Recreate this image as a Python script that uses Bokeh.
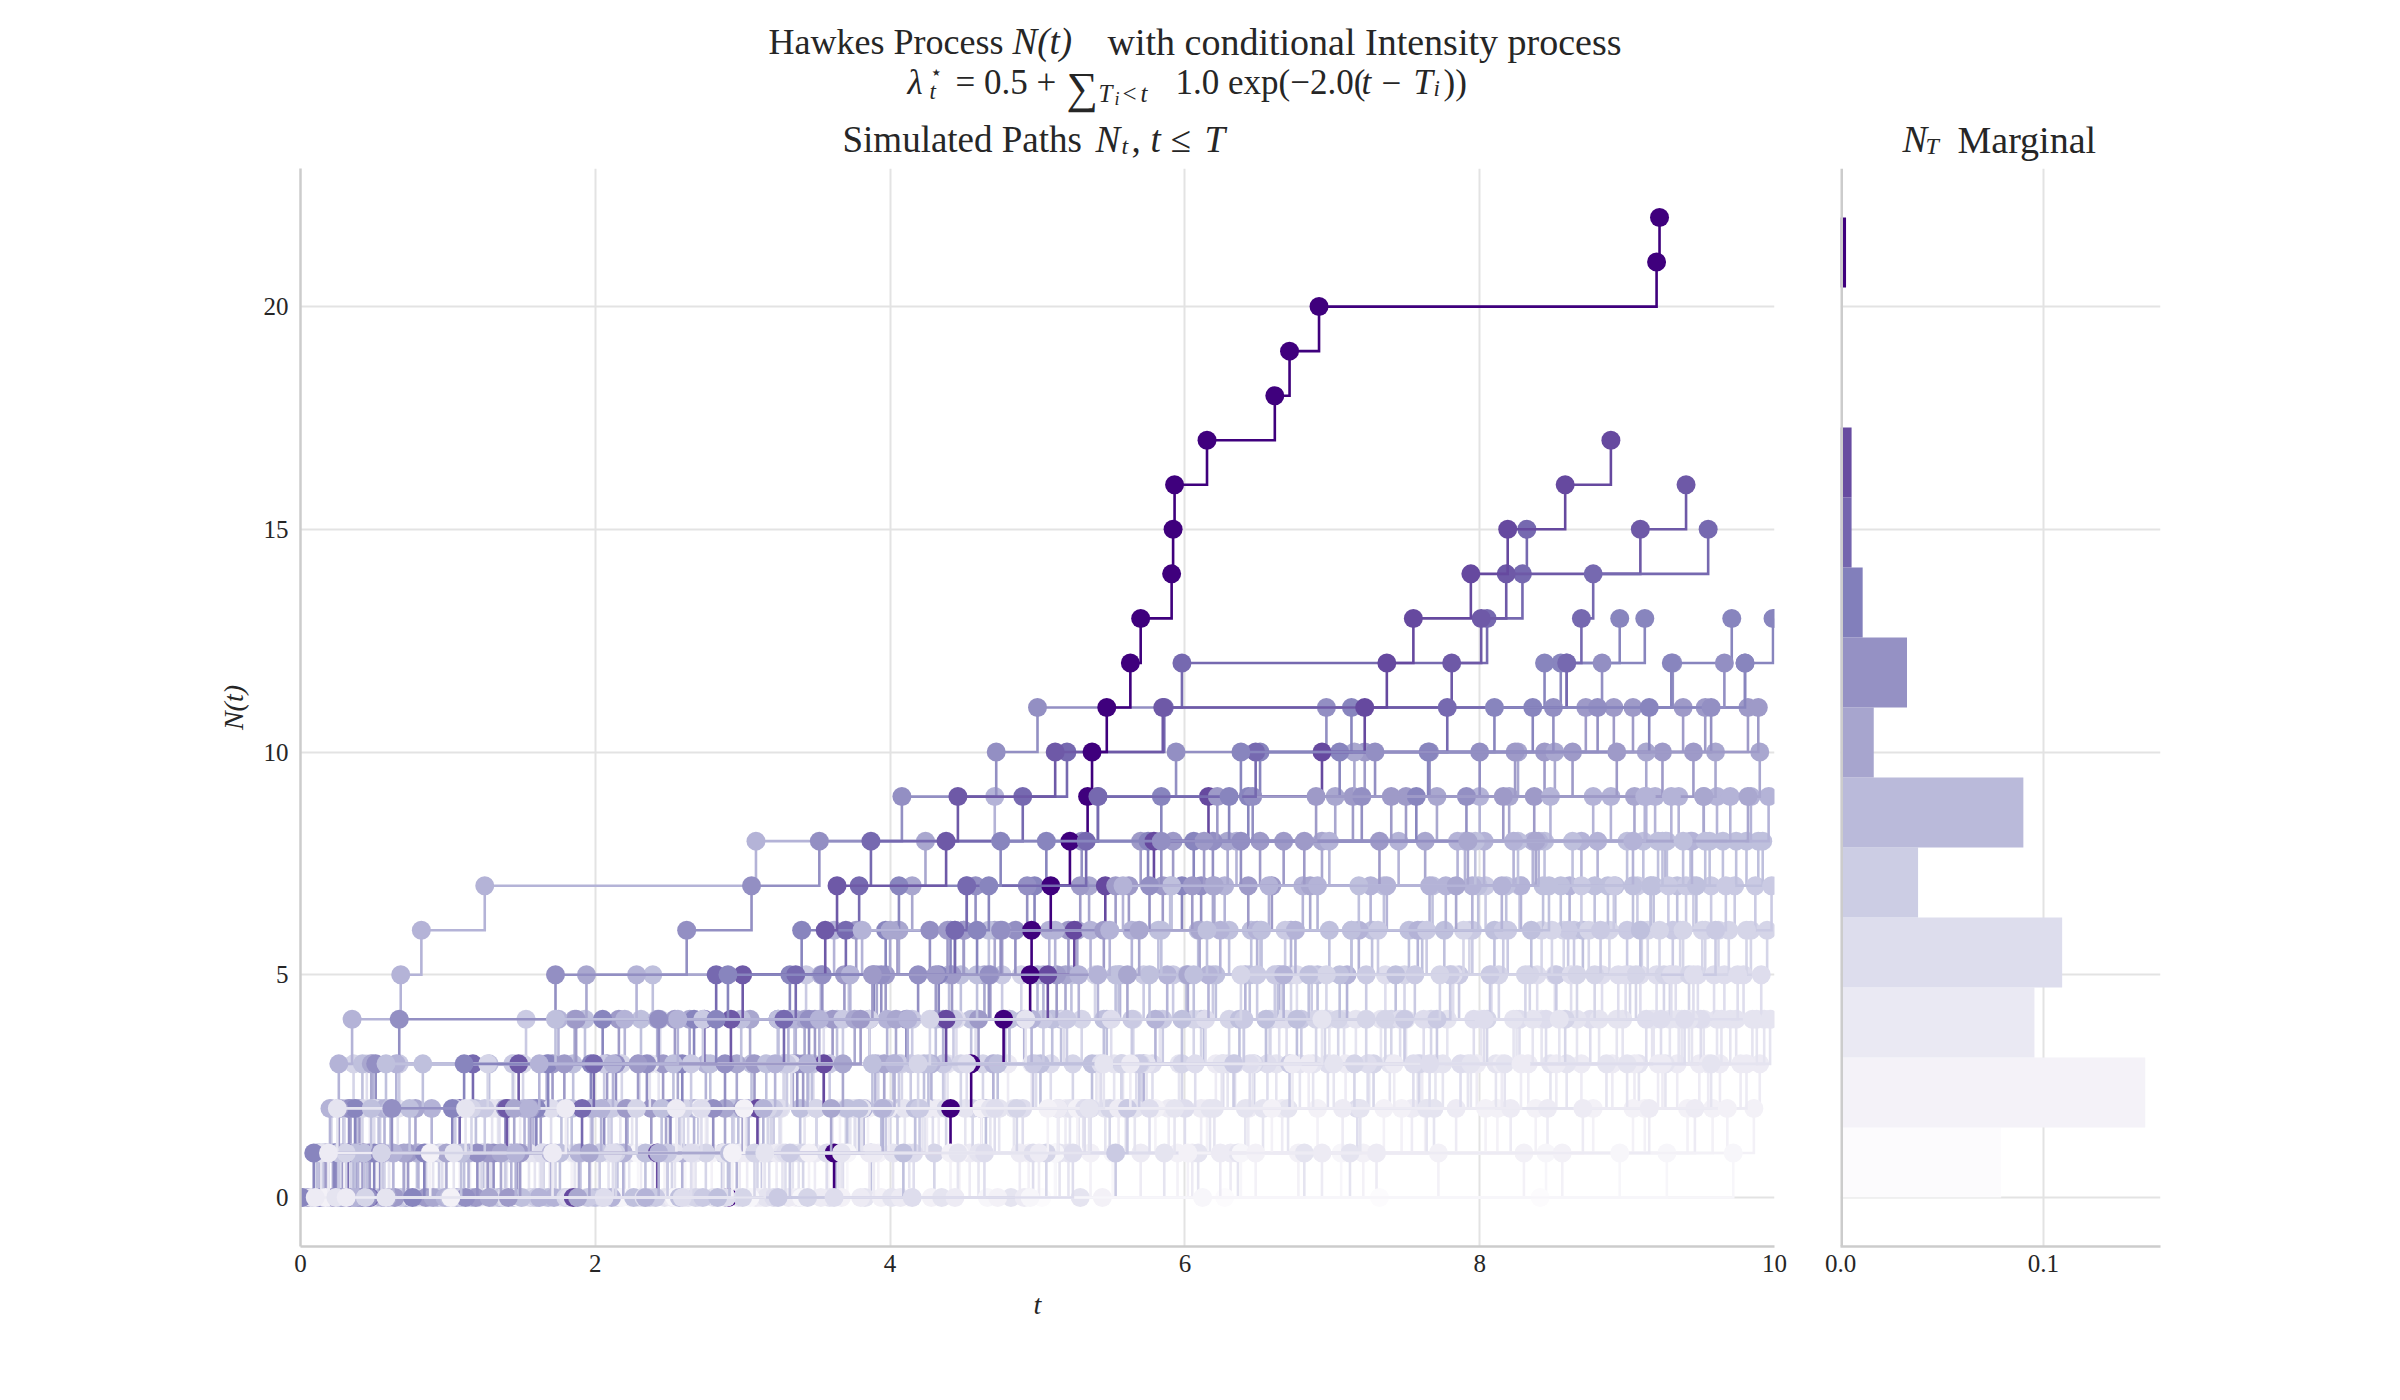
import numpy as np
from bokeh.plotting import figure
from bokeh.models import Range1d, FixedTicker, NumeralTickFormatter, Span
from bokeh.core.properties import value
from bokeh.layouts import row, column
from bokeh.embed import file_html
from bokeh.resources import INLINE

# Event times of every simulated path on [0, T], grouped by the final count N_T.
# A path with final count k has k + 1 marked events (counts 0 .. k).
T_END = 10.0

paths_n0 = [[0.02], [0.44], [1.13], [1.71], [2.35], [2.96], [3.58], [4.12], [5.03], [6.27], [7.32], [8.41]]

paths_n1 = [
    [0.08, 1.62], [0.21, 2.61], [0.37, 0.61], [0.55, 4.30], [0.79, 2.02], [1.02, 5.51],
    [1.24, 1.38], [1.47, 7.06], [1.93, 3.27], [2.18, 2.29], [2.54, 8.45], [2.83, 6.38],
    [3.05, 3.71], [3.40, 9.27], [4.66, 5.12], [4.95, 9.72], [6.12, 8.95],
]

paths_n2 = [
    [0.03, 0.29, 3.85], [0.12, 1.08, 1.19], [0.26, 2.47, 6.90], [0.41, 0.52, 7.63],
    [0.48, 3.92, 4.05], [0.63, 1.84, 9.41], [0.74, 5.36, 5.60], [0.92, 0.97, 2.71],
    [1.10, 6.77, 8.12], [1.31, 3.58, 3.66], [1.52, 1.88, 9.04], [1.66, 4.94, 7.47],
    [1.85, 2.12, 5.80], [2.02, 8.30, 8.38], [2.24, 2.79, 6.15], [2.40, 4.47, 9.86],
    [2.61, 7.21, 7.35], [2.88, 3.14, 4.62], [3.12, 5.95, 9.58], [3.36, 3.45, 8.77],
    [3.67, 6.48, 6.59], [3.94, 7.72, 9.12], [4.28, 4.41, 5.27], [4.73, 8.56, 9.68],
    [5.44, 6.02, 8.04], [0.17, 0.88, 5.07], [1.02, 2.93, 3.01],
]

paths_n3 = [
    [0.05, 0.33, 0.47, 6.21], [0.14, 2.66, 2.75, 3.30], [0.22, 1.15, 5.89, 9.34],
    [0.34, 0.40, 4.17, 7.98], [0.46, 3.03, 3.20, 8.69], [0.58, 1.97, 7.54, 7.61],
    [0.69, 0.86, 1.49, 4.80], [0.83, 5.12, 5.19, 9.90], [0.99, 2.31, 6.66, 9.05],
    [1.18, 1.26, 3.77, 5.42], [1.36, 4.54, 8.21, 8.33], [1.57, 1.69, 2.04, 7.09],
    [1.76, 6.31, 6.43, 9.49], [1.94, 3.49, 3.61, 4.96], [2.13, 2.20, 7.84, 9.63],
    [2.31, 5.70, 8.46, 8.52], [2.52, 2.98, 4.33, 6.84], [2.70, 3.86, 3.99, 9.21],
    [2.91, 6.05, 6.11, 7.42], [3.09, 3.23, 5.55, 8.90], [3.31, 4.88, 9.46, 9.55],
    [3.53, 6.93, 7.07, 8.15], [3.80, 3.89, 4.25, 9.77], [4.07, 7.30, 8.70, 9.81],
    [4.44, 5.01, 5.14, 6.73], [4.91, 6.24, 9.15, 9.24], [0.10, 0.19, 2.55, 5.63],
    [0.31, 1.71, 1.80, 8.28],
]

paths_n4 = [
    [0.04, 0.18, 1.34, 1.45, 6.57], [0.11, 0.47, 3.26, 7.92, 8.01], [0.20, 2.09, 2.17, 2.43, 9.18],
    [0.28, 0.35, 0.66, 4.70, 5.83], [0.36, 1.59, 5.31, 5.40, 9.70], [0.43, 2.86, 6.20, 6.29, 7.78],
    [0.52, 0.60, 3.73, 8.48, 9.37], [0.61, 1.22, 1.30, 5.96, 8.81], [0.70, 4.13, 4.22, 4.39, 7.16],
    [0.81, 0.90, 2.58, 6.62, 9.52], [0.95, 3.34, 3.42, 9.08, 9.17], [1.07, 1.55, 4.84, 7.39, 7.50],
    [1.20, 5.21, 5.28, 8.11, 9.93], [1.33, 1.40, 2.25, 3.96, 6.98], [1.49, 3.65, 6.70, 6.78, 8.42],
    [1.61, 2.68, 2.76, 5.58, 9.29], [1.79, 1.86, 4.51, 7.25, 7.33], [1.98, 6.36, 6.41, 8.59, 9.61],
    [2.15, 2.23, 3.11, 5.74, 8.97], [2.29, 4.02, 4.10, 6.87, 9.44], [2.47, 2.54, 7.69, 7.75, 9.88],
    [2.63, 3.38, 5.46, 5.52, 8.25], [2.80, 2.87, 4.74, 9.26, 9.35], [2.97, 6.09, 6.17, 6.25, 8.66],
    [3.16, 3.27, 3.81, 7.58, 9.74], [3.39, 5.15, 5.22, 8.86, 8.93], [3.59, 3.67, 6.53, 9.00, 9.85],
    [3.83, 4.60, 4.68, 7.94, 8.36], [4.01, 7.12, 7.19, 9.57, 9.64], [4.35, 4.46, 5.66, 6.46, 9.97],
    [4.82, 5.86, 5.93, 8.17, 8.23], [5.29, 6.81, 7.64, 7.70, 9.42], [0.07, 0.14, 0.25, 2.37, 4.92],
    [0.24, 1.04, 1.12, 7.01, 8.54], [0.58, 3.15, 5.35, 5.45, 6.93],
]

paths_n5 = [
    [0.06, 0.16, 0.30, 0.45, 4.58, 8.08], [0.13, 1.28, 1.35, 3.48, 3.55, 9.48],
    [0.19, 0.27, 2.63, 6.34, 6.40, 7.36], [0.32, 0.38, 0.50, 5.78, 8.75, 8.83],
    [0.40, 2.14, 2.21, 2.30, 7.08, 9.66], [0.50, 1.63, 4.29, 4.37, 4.45, 8.39],
    [0.62, 0.71, 3.02, 6.97, 9.13, 9.20], [0.75, 3.68, 3.76, 5.09, 5.18, 7.82],
    [0.88, 0.96, 1.70, 6.56, 6.64, 9.79], [1.03, 2.39, 4.90, 4.99, 8.45, 8.51],
    [1.21, 1.29, 5.60, 5.67, 7.46, 9.33], [1.39, 3.18, 3.25, 3.33, 6.14, 8.99],
    [1.58, 1.64, 2.50, 7.87, 7.96, 9.09], [1.82, 4.16, 4.24, 6.26, 9.50, 9.59],
    [2.06, 2.12, 5.36, 5.43, 5.50, 8.62], [2.33, 3.57, 7.17, 7.24, 8.27, 9.91],
    [2.59, 2.65, 2.72, 4.52, 6.69, 6.76], [2.89, 4.97, 6.00, 6.07, 9.23, 9.30],
    [3.21, 3.29, 5.76, 7.55, 7.62, 8.94], [3.62, 4.64, 4.71, 6.44, 8.03, 9.75],
    [4.15, 5.24, 5.32, 7.66, 9.39, 9.45],
]

paths_n6 = [
    [0.05, 0.12, 0.21, 0.36, 2.44, 6.72, 9.36], [0.15, 0.24, 1.41, 1.51, 4.81, 4.89, 8.57],
    [0.27, 0.34, 0.42, 3.45, 6.58, 6.66, 7.93], [0.38, 2.02, 2.09, 2.18, 5.65, 9.02, 9.10],
    [0.49, 0.57, 4.00, 4.08, 7.40, 7.49, 9.84], [0.64, 1.73, 1.81, 3.92, 6.11, 8.34, 8.42],
    [0.78, 0.85, 2.94, 5.24, 5.30, 5.39, 9.62], [0.96, 3.10, 3.19, 3.28, 7.04, 8.78, 8.88],
    [1.14, 1.23, 4.56, 4.63, 6.30, 9.25, 9.53], [1.37, 2.52, 2.60, 5.98, 6.06, 7.80, 7.89],
    [1.56, 1.65, 3.70, 7.28, 7.36, 9.42, 9.51], [1.80, 4.30, 4.38, 4.48, 8.05, 8.13, 9.95],
    [2.05, 2.14, 5.49, 5.57, 6.89, 6.96, 9.14], [2.37, 3.41, 3.50, 6.47, 8.58, 8.66, 8.74],
    [2.68, 2.75, 4.86, 7.59, 7.67, 9.29, 9.38], [3.00, 3.08, 3.17, 5.70, 6.95, 8.31, 9.69],
    [3.44, 5.06, 5.14, 7.15, 7.23, 9.06, 9.81], [0.09, 0.31, 1.16, 1.27, 3.86, 7.73, 8.49],
    [0.44, 0.55, 2.28, 4.19, 4.27, 6.38, 9.22],
]

paths_n7 = [
    [0.10, 0.23, 0.29, 1.44, 1.53, 4.76, 8.19, 8.27], [0.20, 0.46, 0.54, 0.67, 3.35, 3.43, 6.51, 9.45],
    [0.30, 1.90, 1.97, 2.06, 5.85, 5.92, 7.13, 9.73], [0.47, 0.56, 3.50, 3.59, 3.68, 6.19, 9.00, 9.07],
    [0.68, 2.49, 2.57, 4.36, 4.43, 7.86, 7.95, 8.04], [0.87, 0.94, 1.05, 5.57, 5.64, 5.72, 8.64, 9.57],
    [1.09, 2.86, 2.93, 6.71, 6.79, 6.86, 9.31, 9.40], [1.30, 1.39, 4.05, 4.14, 7.49, 7.56, 7.64, 9.87],
    [1.60, 3.13, 3.21, 3.30, 5.20, 8.52, 8.60, 8.69], [1.95, 2.03, 2.11, 4.97, 5.04, 6.61, 6.68, 9.16],
    [0.16, 0.26, 1.25, 2.65, 2.73, 7.23, 7.31, 9.98], [2.41, 2.49, 3.97, 4.06, 4.15, 8.07, 8.16, 9.28],
    [2.73, 5.53, 5.61, 5.69, 7.71, 7.80, 9.60, 9.67], [3.24, 3.32, 4.20, 6.33, 6.40, 6.49, 8.82, 8.91],
]

paths_n8 = [
    [0.06, 0.15, 0.33, 0.42, 2.31, 2.39, 5.82, 5.90, 9.11], [0.17, 0.25, 1.77, 1.85, 1.93, 4.48, 7.27, 7.35, 9.89],
    [0.32, 0.45, 0.53, 3.55, 3.64, 3.72, 6.45, 8.92, 9.00], [0.51, 1.11, 1.19, 1.28, 5.16, 5.23, 7.61, 7.68, 8.44],
    [0.71, 0.79, 2.70, 2.78, 4.55, 6.90, 6.98, 9.34, 9.43], [0.93, 2.15, 2.22, 4.23, 4.31, 4.40, 8.35, 8.43, 9.65],
    [1.16, 1.24, 3.39, 3.47, 6.13, 6.21, 6.30, 7.99, 9.81], [1.45, 3.87, 3.94, 4.02, 5.47, 5.55, 8.70, 8.78, 9.21],
    [1.68, 1.76, 1.84, 5.02, 5.10, 7.43, 7.52, 9.47, 9.56], [2.00, 2.90, 2.97, 3.06, 6.55, 6.63, 8.10, 8.18, 8.26],
    [2.26, 2.34, 4.65, 4.73, 4.81, 7.05, 7.13, 9.04, 9.92], [2.57, 3.63, 3.71, 5.37, 5.45, 5.53, 7.76, 9.18, 9.27],
    [0.02, 0.11, 0.74, 0.83, 2.99, 6.01, 6.09, 8.55, 8.63], [0.35, 0.43, 0.61, 3.16, 3.24, 5.76, 5.84, 5.91, 9.74],
    [1.01, 1.09, 2.45, 2.53, 6.37, 6.44, 6.52, 8.87, 9.53], [1.50, 4.09, 4.17, 4.26, 6.76, 6.84, 9.09, 9.16, 9.24],
    [0.24, 0.37, 0.48, 0.58, 1.73, 4.59, 4.67, 7.18, 7.97], [2.83, 2.91, 3.79, 3.88, 5.98, 6.06, 6.15, 8.47, 9.38],
]

paths_n9 = [
    [0.05, 0.13, 0.20, 0.26, 0.35, 0.68, 0.82, 1.25, 3.09, 4.71],
    [0.09, 0.19, 0.38, 0.49, 2.20, 2.28, 4.44, 4.52, 7.90, 8.00],
    [0.27, 0.36, 1.58, 1.67, 1.75, 3.53, 3.62, 6.27, 6.35, 9.19],
    [0.44, 2.59, 2.67, 2.75, 4.91, 5.00, 5.08, 7.37, 7.45, 9.61],
    [0.72, 0.80, 0.89, 3.28, 3.36, 6.64, 6.72, 6.80, 8.80, 8.89],
    [1.06, 1.14, 3.82, 3.90, 3.98, 5.56, 5.64, 8.28, 8.36, 9.84],
    [1.35, 1.43, 1.52, 4.28, 4.36, 7.10, 7.18, 7.26, 9.26, 9.35],
    [1.72, 2.96, 3.04, 5.72, 5.80, 5.88, 7.58, 7.66, 9.44, 9.52],
    [2.11, 2.19, 4.62, 4.70, 4.78, 6.16, 6.24, 8.61, 8.69, 8.77],
    [0.30, 0.39, 0.57, 0.65, 2.42, 3.73, 3.81, 6.90, 6.98, 9.96],
    [0.55, 0.63, 2.04, 2.12, 4.96, 5.04, 5.12, 7.77, 7.85, 9.13],
    [0.98, 1.89, 1.98, 3.44, 3.52, 6.41, 6.49, 6.57, 8.40, 8.48],
    [1.62, 1.70, 3.14, 3.22, 3.31, 5.28, 5.36, 7.95, 8.03, 9.70],
    [2.34, 2.43, 3.95, 4.03, 4.12, 6.67, 6.75, 8.15, 8.23, 9.30],
    [0.37, 1.46, 1.55, 1.62, 2.56, 5.41, 5.49, 5.58, 9.04, 9.12],
]

paths_n10 = [
    [0.11, 0.22, 0.34, 0.48, 1.86, 1.94, 4.06, 4.15, 4.24, 7.02, 7.15],
    [0.33, 0.42, 2.48, 2.56, 2.64, 3.91, 4.00, 6.20, 6.29, 8.20, 8.26],
    [0.59, 0.70, 0.78, 3.34, 3.42, 5.19, 5.27, 5.35, 7.63, 7.71, 8.51],
    [0.90, 0.99, 2.88, 2.96, 3.05, 4.64, 4.71, 6.85, 6.93, 9.05, 9.13],
    [1.28, 1.36, 1.45, 3.96, 4.04, 6.02, 6.10, 6.19, 8.38, 9.52, 9.60],
    [1.88, 1.96, 3.60, 3.68, 3.76, 5.61, 5.69, 7.84, 7.92, 9.82, 9.90],
]

paths_n11 = [
    [0.18, 0.28, 0.40, 2.08, 2.16, 3.97, 4.05, 5.62, 5.70, 7.14, 7.22, 8.72],
    [0.39, 0.47, 1.63, 1.71, 3.61, 3.69, 3.77, 5.85, 5.92, 7.50, 8.44, 8.91],
    [0.64, 0.73, 2.38, 2.46, 2.54, 4.42, 4.50, 6.43, 6.51, 8.16, 8.24, 9.04],
    [0.85, 1.47, 1.56, 3.41, 3.49, 5.13, 5.21, 5.29, 7.32, 7.40, 9.24, 9.38],
    [1.19, 1.27, 3.00, 3.08, 4.60, 4.68, 4.76, 6.59, 6.67, 8.37, 9.45, 9.53],
    [0.06, 0.17, 0.26, 1.79, 1.87, 4.31, 4.39, 6.05, 6.13, 6.22, 8.63, 9.82],
    [1.41, 1.49, 2.21, 2.29, 3.80, 3.88, 5.45, 5.53, 6.81, 6.89, 8.93, 9.89],
]

paths_n12 = [
    [0.08, 0.24, 0.33, 0.51, 0.67, 1.73, 2.62, 3.06, 3.52, 4.08, 4.72, 5.00, 8.59],
    [0.29, 0.38, 2.06, 2.14, 3.86, 3.94, 4.50, 4.58, 5.30, 5.41, 5.94, 6.96, 9.31],
    [0.57, 1.31, 1.39, 3.37, 3.45, 3.54, 4.85, 4.93, 6.38, 6.46, 7.66, 8.50, 9.80],
    [1.12, 1.20, 2.80, 2.88, 4.11, 4.19, 4.27, 6.11, 6.19, 7.91, 8.00, 8.80, 8.83],
    [0.46, 0.54, 0.62, 2.35, 2.43, 4.67, 4.75, 5.76, 5.84, 7.20, 7.29, 9.57, 9.66],
]

paths_n13 = [
    [0.13, 0.23, 0.37, 1.97, 2.05, 3.89, 3.97, 4.06, 5.75, 5.84, 7.05, 7.13, 8.55, 8.95],
    [0.42, 0.50, 1.60, 1.68, 3.24, 3.32, 3.40, 4.98, 5.06, 6.43, 6.51, 8.36, 8.44, 9.12],
    [0.76, 0.84, 2.51, 2.59, 2.67, 4.33, 4.41, 5.98, 6.06, 7.57, 7.65, 9.15, 9.30, 9.71],
    [0.01, 0.09, 1.03, 1.11, 2.82, 2.90, 4.59, 4.67, 4.75, 6.30, 6.38, 8.10, 9.80, 9.99],
]

paths_n15 = [
    [0.23, 0.32, 1.08, 1.17, 2.74, 2.82, 3.70, 3.79, 3.87, 4.90, 5.20, 5.86, 5.98, 8.05, 8.29, 8.32],
    [0.47, 0.55, 1.91, 1.99, 3.28, 3.36, 4.44, 4.52, 5.33, 5.41, 6.48, 7.78, 8.59, 8.69, 8.77, 9.55],
]

paths_n16 = [
    [0.34, 0.43, 1.40, 1.48, 2.92, 3.00, 3.56, 3.64, 4.38, 4.46, 5.12, 5.85, 7.81, 8.01, 8.18, 9.09, 9.40],
]

paths_n17 = [
    [1.85, 2.42, 3.10, 3.55, 4.38, 5.07, 5.25, 5.46, 5.79, 6.16, 6.93, 7.22, 7.37, 7.55, 7.94, 8.19, 8.58, 8.89],
]

paths_n22 = [
    [2.90, 3.62, 4.41, 4.55, 4.77, 4.95, 4.96, 5.09, 5.22, 5.34, 5.37, 5.47, 5.63, 5.70, 5.91,
     5.92, 5.93, 6.15, 6.61, 6.71, 6.91, 9.20, 9.22],
]

groups = [paths_n0, paths_n1, paths_n2, paths_n3, paths_n4, paths_n5, paths_n6, paths_n7,
          paths_n8, paths_n9, paths_n10, paths_n11, paths_n12, paths_n13, paths_n15,
          paths_n16, paths_n17, paths_n22]

N_BINS = 14

FONT = "Liberation Serif"
INK = "#262626"
GRID = "#e3e3e3"
SPINE = "#cccccc"

PURPLES = ["#fcfbfd", "#efedf5", "#dadaeb", "#bcbddc", "#9e9ac8",
           "#807dba", "#6a51a3", "#54278f", "#3f007d"]


def purples(v):
    v = min(max(float(v), 0.0), 1.0)
    pos = v * (len(PURPLES) - 1)
    i = min(int(pos), len(PURPLES) - 2)
    f = pos - i
    a = [int(PURPLES[i][k:k + 2], 16) for k in (1, 3, 5)]
    b = [int(PURPLES[i + 1][k:k + 2], 16) for k in (1, 3, 5)]
    return "#%02x%02x%02x" % tuple(int(round(a[j] + (b[j] - a[j]) * f)) for j in range(3))


# spread every group evenly through the drawing order
entries = []
for g in groups:
    n = len(g)
    for i, ts in enumerate(g):
        entries.append(((i + 0.75) / n, sorted(ts)))
entries.sort(key=lambda e: e[0])

finals = np.array([len(ts) - 1 for _, ts in entries])
n_max = finals.max()
n_min = finals.min()

# histogram of N_T
bin_w = (n_max - n_min) / N_BINS
idx = np.minimum(((finals - n_min) * N_BINS) // (n_max - n_min), N_BINS - 1).astype(int)
counts = np.bincount(idx, minlength=N_BINS)
density = counts / (len(finals) * bin_w)
bin_lo = n_min + np.arange(N_BINS) * bin_w
bin_mid = bin_lo + bin_w / 2
bar_colors = [purples(i / (N_BINS - 1)) for i in range(N_BINS)]

pad = 0.05 * (n_max - n_min)
y_rng = Range1d(n_min - pad, n_max + pad)

HEAD_H = 168
BODY_H = 1400 - HEAD_H

# ---------- main panel: simulated paths ----------
p = figure(width=1807, height=BODY_H, x_range=Range1d(0, T_END), y_range=y_rng,
           output_backend="svg", toolbar_location=None, title_location=None,
           min_border_left=300, min_border_right=33, min_border_top=0, min_border_bottom=154,
           outline_line_color=None, background_fill_color="white", border_fill_color="white")

for _, ts in entries:
    k = len(ts) - 1
    col = purples(k / n_max)
    xs, ys = [ts[0]], [0]
    for j in range(1, k + 1):
        xs += [ts[j], ts[j]]
        ys += [j - 1, j]
    p.line(xs, ys, line_color=col, line_width=2.6, line_join="miter")
    p.scatter(ts, list(range(k + 1)), size=19, fill_color=col, line_color=None)


def style_axes(fig):
    for ax in (fig.xaxis, fig.yaxis):
        ax.axis_line_color = SPINE
        ax.axis_line_width = 2.5
        ax.major_tick_line_color = None
        ax.minor_tick_line_color = None
        ax.major_tick_out = 0
        ax.major_tick_in = 0
        ax.major_label_text_font = FONT
        ax.major_label_text_font_size = "25px"
        ax.major_label_text_color = INK
        ax.axis_label_text_font = FONT
        ax.axis_label_text_font_size = "28px"
        ax.axis_label_text_font_style = "italic"
        ax.axis_label_text_color = INK
    for gr in (fig.xgrid, fig.ygrid):
        gr.grid_line_color = GRID
        gr.grid_line_width = 2


style_axes(p)
p.xaxis.ticker = FixedTicker(ticks=[0, 2, 4, 6, 8, 10])
p.yaxis.ticker = FixedTicker(ticks=[0, 5, 10, 15, 20])
p.xaxis.major_label_standoff = 8
p.yaxis.major_label_standoff = 12
p.xaxis.axis_label = "t"
p.yaxis.axis_label = "N(t)"
p.xaxis.axis_label_standoff = 14
p.yaxis.axis_label_standoff = 12

# ---------- marginal panel: distribution of N_T ----------
q = figure(width=593, height=BODY_H, x_range=Range1d(0, 1.05 * density.max()), y_range=y_rng,
           output_backend="svg", toolbar_location=None, title_location=None,
           min_border_left=33, min_border_right=240, min_border_top=0, min_border_bottom=154,
           outline_line_color=None, background_fill_color="white", border_fill_color="white")
q.hbar(y=bin_mid, height=bin_w, left=0, right=density, fill_color=bar_colors, line_color=None)
style_axes(q)
q.xaxis.ticker = FixedTicker(ticks=[0.0, 0.1])
q.xaxis.formatter = NumeralTickFormatter(format="0.0")
q.xaxis.major_label_standoff = 8
q.yaxis.visible = False
q.ygrid.ticker = FixedTicker(ticks=[0, 5, 10, 15, 20])
q.add_layout(Span(location=0, dimension="height", line_color=SPINE, line_width=5))

# ---------- header: figure title and panel titles (page pixel coordinates) ----------
hdr = figure(width=2400, height=HEAD_H, x_range=Range1d(0, 2400), y_range=Range1d(HEAD_H, 0),
             output_backend="svg", toolbar_location=None, title_location=None,
             x_axis_type=None, y_axis_type=None, min_border=0,
             outline_line_color=None, background_fill_color="white", border_fill_color="white")
hdr.grid.visible = False


def put(text, X, Y, size, style="normal", align="left"):
    hdr.text(x=[X], y=[Y], text=[text], text_font=value(FONT), text_font_size=value(f"{size}px"),
             text_font_style=value(style), text_color=INK, text_align=align,
             text_baseline="alphabetic")


# figure title, line 1
L1, L2, L3 = 41, 82, 139
put("Hawkes Process", 1003, L1, 36, align="right")
put("N(t)", 1012, L1, 37, "italic")
put("with conditional Intensity process", 1107, L1, 38)
# figure title, line 2
put("λ", 907, L2, 35, "italic")
put("⋆", 929, L2 - 11, 20)
put("t", 929, L2 + 9, 23, "italic")
put("= 0.5 +", 955, L2, 35)
put("∑", 1066, L2 + 6, 44)
put("T", 1098, L2 + 11, 25, "italic")
put("i", 1114, L2 + 16, 18, "italic")
put("<", 1122, L2 + 11, 25)
put("t", 1140, L2 + 11, 25, "italic")
put("1.0 exp(−2.0(", 1175, L2, 35)
put("t", 1361, L2, 35, "italic")
put("−", 1381, L2, 35)
put("T", 1413, L2, 35, "italic")
put("i", 1433, L2 + 6, 23, "italic")
put("))", 1443, L2, 35)

# panel titles
put("Simulated Paths", 842, L3, 37)
put("N", 1095, L3, 37, "italic")
put("t", 1121, L3 + 6, 24, "italic")
put(",", 1131, L3, 37)
put("t", 1150, L3, 37, "italic")
put("≤", 1170, L3, 37)
put("T", 1204, L3, 37, "italic")

put("N", 1902, L3, 37, "italic")
put("T", 1925, L3 + 6, 24, "italic")
put("Marginal", 1957, L3, 38)

layout = column(hdr, row(p, q))
open("out.html", "w").write(file_html(layout, INLINE))
